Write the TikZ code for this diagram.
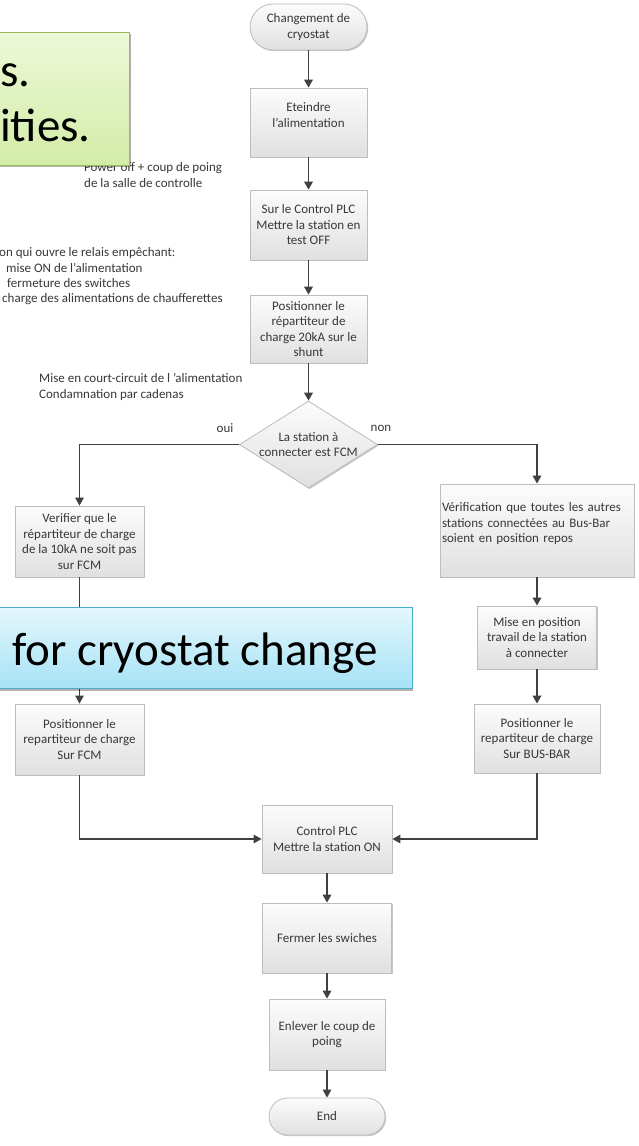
\documentclass[tikz,border=0pt]{standalone}
\usepackage{fontspec}
\setmainfont{Carlito}
\usetikzlibrary{arrows.meta,shapes.geometric,shadows}
\definecolor{boxborder}{HTML}{BDBDBD}
\definecolor{boxtop}{HTML}{FCFCFC}
\definecolor{boxbot}{HTML}{E0E0E0}
\definecolor{arrowc}{HTML}{404040}
\definecolor{txt}{HTML}{383838}
\definecolor{greentop}{HTML}{EEF8D8}
\definecolor{greenbot}{HTML}{D3ECA8}
\definecolor{greenborder}{HTML}{9BBB59}
\definecolor{bluetop}{HTML}{E4F7FD}
\definecolor{bluebot}{HTML}{A6E2F6}
\definecolor{blueborder}{HTML}{4BACC6}
\begin{document}
\begin{tikzpicture}[x=1pt,y=-1pt,
  small/.style={font=\fontsize{13}{15.5}\selectfont, text=txt},
  shad/.style={drop shadow={shadow xshift=1.2pt, shadow yshift=-1.2pt, opacity=0.22, fill=black}},
  box/.style={small, draw=boxborder, line width=0.8pt, top color=boxtop, bottom color=boxbot, align=center, inner sep=0pt, shad},
  term/.style={box, rounded corners=#1},
  note/.style={small, anchor=base west, inner sep=0pt},
  arr/.style={draw=arrowc, line width=1.4pt, -{Triangle[length=8pt,width=8.5pt]}},
  arrthick/.style={arr, line width=1.9pt},
  big/.style={font=\fontsize{47}{56}\selectfont, text=black, inner sep=0pt},
]
\useasboundingbox (0,0) rectangle (639,1146);
\clip (0,0) rectangle (639,1146);
\fill[white] (0,0) rectangle (639,1146);

% annotations
\node[note] (n1a) at (84,171) {Power off + coup de poing};
\node[note] (n1b) at (84,187) {de la salle de controlle};
\node[note] (n2a) at (-1,256) {on qui ouvre le relais empêchant:};
\node[note] (n2b) at (6,272) {mise ON de l’alimentation};
\node[note] (n2c) at (7,287) {fermeture des switches};
\node[note] (n2d) at (2,302) {charge des alimentations de chaufferettes};
\node[note] (n3a) at (39,382) {Mise en court-circuit de l ’alimentation};
\node[note] (n3b) at (39,398) {Condamnation par cadenas};

% flowchart nodes
\node[term=23pt, minimum width=117pt, minimum height=46pt] (start) at (308.5,27) {Changement de\\cryostat};
\node[box, minimum width=117pt, minimum height=69pt] (eteindre) at (308.5,122.5) {Eteindre\\l’alimentation\\\mbox{}};
\node[box, minimum width=117pt, minimum height=70pt] (plc1) at (308.5,225) {Sur le Control PLC\\Mettre la station en\\test OFF};
\node[box, minimum width=117pt, minimum height=68pt] (pos20) at (308.5,329) {Positionner le\\répartiteur de\\charge 20kA sur le\\shunt};
\node[diamond, draw=boxborder, line width=0.8pt, top color=boxtop, bottom color=boxbot, shad,
      minimum width=138pt, minimum height=87pt, inner sep=0pt, aspect=1.586] (dia) at (308.5,444.5) {};
\node[small, align=center, inner sep=0pt] (diatxt) at (308.5,444.5) {La station à\\connecter est FCM};
\node[small, inner sep=0pt] (oui) at (225,428) {oui};
\node[small, inner sep=0pt] (non) at (381,428) {non};

\node[box, minimum width=129pt, minimum height=71pt] (verif) at (79.5,541.5) {Verifier que le\\répartiteur de charge\\de la 10kA ne soit pas\\sur FCM};
\node[box, minimum width=129pt, minimum height=71pt] (posfcm) at (79.5,739.5) {Positionner le\\repartiteur de charge\\Sur FCM};

\node[box, minimum width=194pt, minimum height=93pt, text width=190pt, align=left] (verifall) at (537,530.5)
  {\makebox[190pt][s]{Vérification que toutes les autres}\\\makebox[190pt][s]{stations connectées au Bus-Bar}\\soient en position repos\\\mbox{}};
\node[box, minimum width=119pt, minimum height=63pt] (mise) at (537,637.5) {Mise en position\\travail de la station\\à connecter};
\node[box, minimum width=126pt, minimum height=69pt] (posbus) at (537,738.5) {Positionner le\\repartiteur de charge\\Sur BUS-BAR};

\node[box, minimum width=130pt, minimum height=68pt] (plc2) at (327,839) {Control PLC\\Mettre la station ON};
\node[box, minimum width=129pt, minimum height=70pt] (fermer) at (327,938) {Fermer les swiches};
\node[box, minimum width=116pt, minimum height=71pt] (enlever) at (327,1034.5) {Enlever le coup de\\poing};
\node[term=18.5pt, minimum width=116pt, minimum height=37pt] (endn) at (327,1116.5) {End};

% connectors
\draw[arrthick] (start) -- (eteindre);
\draw[arrthick] (eteindre) -- (plc1);
\draw[arrthick] (plc1) -- (pos20);
\draw[arrthick] (pos20) -- (dia);
\draw[arr] (dia.west) -| (verif.north);
\draw[arrthick] (dia.east) -| (verifall.north);
\draw[arr] (verif) -- (posfcm);
\draw[arrthick] (verifall) -- (mise);
\draw[arrthick] (mise) -- (posbus);
\draw[arr] (posfcm.south) |- (plc2.west);
\draw[arr] (posbus.south) |- (plc2.east);
\draw[arr] (plc2) -- (fermer);
\draw[arr] (fermer) -- (enlever);
\draw[arr] (enlever) -- (endn);

% callouts
\node[draw=greenborder, line width=1pt, top color=greentop, bottom color=greenbot,
      drop shadow={shadow xshift=2pt, shadow yshift=-2pt, opacity=0.3, fill=black},
      minimum width=149pt, minimum height=133pt, inner sep=0pt] (green) at (54.5,98.5) {};
\node[big, anchor=base east] (g1) at (31,86) {s.};
\node[big, anchor=base east] (g2) at (91,141) {ities.};

\node[draw=blueborder, line width=1pt, top color=bluetop, bottom color=bluebot,
      drop shadow={shadow xshift=1pt, shadow yshift=-2.5pt, opacity=0.3, fill=black},
      minimum width=432pt, minimum height=81pt, inner sep=0pt] (blue) at (196,647.5) {};
\node[big, anchor=base west] (b1) at (12,665) {for cryostat change};
\end{tikzpicture}
\end{document}
